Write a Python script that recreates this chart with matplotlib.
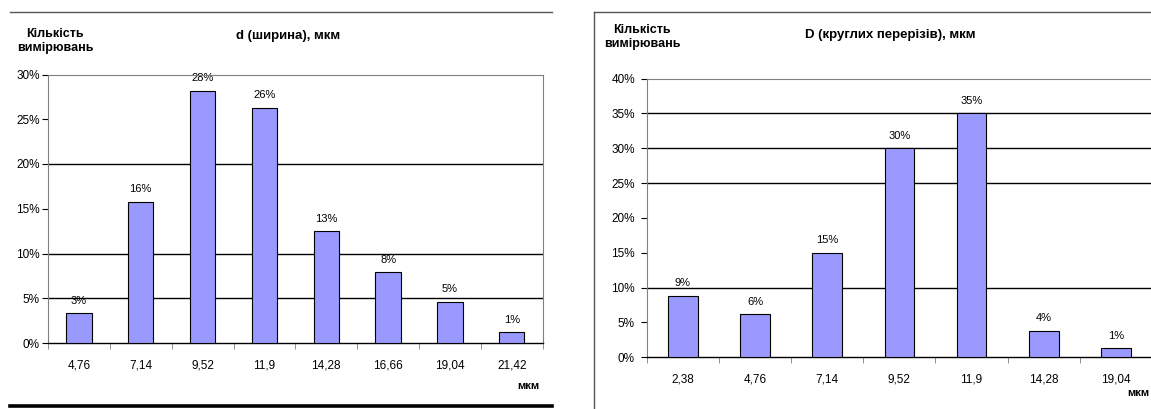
import numpy as np
import matplotlib.pyplot as plt
from matplotlib.lines import Line2D

plt.rcParams["font.family"] = ["Liberation Sans", "DejaVu Sans"]

# Ліва діаграма: d (ширина)
d_cats = ["4,76", "7,14", "9,52", "11,9", "14,28", "16,66", "19,04", "21,42"]
d_vals = [3.3, 15.8, 28.2, 26.3, 12.5, 7.9, 4.6, 1.2]
d_labels = ["3%", "16%", "28%", "26%", "13%", "8%", "5%", "1%"]

# Права діаграма: D (круглих перерізів)
D_cats = ["2,38", "4,76", "7,14", "9,52", "11,9", "14,28", "19,04"]
D_vals = [8.8, 6.2, 15.0, 30.0, 35.0, 3.8, 1.3]
D_labels = ["9%", "6%", "15%", "30%", "35%", "4%", "1%"]

BAR = "#9999FF"
GRAY = "#808080"

fig = plt.figure(figsize=(11.51, 4.09), dpi=100)
W, H = 1151, 409


def px(x0, y_top, x1, y_bot):
    return [x0 / W, 1 - y_bot / H, (x1 - x0) / W, (y_bot - y_top) / H]


def draw(ax, cats, vals, labels, ymax, grid, ypad):
    n = len(cats)
    x = np.arange(n)
    ax.bar(x, vals, width=0.41, color=BAR, edgecolor="black", linewidth=0.8, zorder=3)
    for xi, v, lab in zip(x, vals, labels):
        ax.annotate(lab, (xi, v), xytext=(0, 9), textcoords="offset points",
                    ha="center", va="center", fontsize=8, zorder=0.5)
    # лише ті лінії сітки, що видно на оригіналі
    for g in grid:
        ax.axhline(g, color="black", linewidth=1, zorder=1)
    ax.set_xlim(-0.5, n - 0.5)
    ax.set_ylim(0, ymax)
    ax.set_yticks(np.arange(0, ymax + 1, 5))
    ax.set_yticklabels([f"{int(t)}%" for t in np.arange(0, ymax + 1, 5)], fontsize=8.5)
    ax.set_xticks(x)
    ax.set_xticklabels(cats, fontsize=8.5)
    ax.set_xticks(np.arange(-0.5, n), minor=True)
    ax.tick_params(axis="x", which="major", length=0, pad=12)
    ax.tick_params(axis="x", which="minor", length=4, color=GRAY, direction="out")
    ax.tick_params(axis="y", length=4, width=0.8, color="black", pad=ypad)
    for s in ["left", "top", "right"]:
        ax.spines[s].set_color(GRAY)
        ax.spines[s].set_linewidth(0.8)
    ax.spines["bottom"].set_color("black")
    ax.spines["bottom"].set_linewidth(1)


ax1 = fig.add_axes(px(48, 74.5, 542.7, 343))
draw(ax1, d_cats, d_vals, d_labels, 30, [5, 10, 20], 2)

ax2 = fig.add_axes(px(646.7, 78.5, 1152, 357.3))
draw(ax2, D_cats, D_vals, D_labels, 40, [10, 25, 30, 35], 4.5)

# Підписи
fig.text(55 / W, 1 - 41 / H, "Кількість\nвимірювань", ha="center", va="center",
         fontsize=9, fontweight="bold", linespacing=1.25)
fig.text(288 / W, 1 - 36 / H, "d (ширина), мкм", ha="center", va="center",
         fontsize=9.5, fontweight="bold")
fig.text(528 / W, 1 - 386 / H, "мкм", ha="center", va="center",
         fontsize=8, fontweight="bold")

fig.text(642 / W, 1 - 37 / H, "Кількість\nвимірювань", ha="center", va="center",
         fontsize=9, fontweight="bold", linespacing=1.25)
fig.text(890 / W, 1 - 35 / H, "D (круглих перерізів), мкм", ha="center", va="center",
         fontsize=9.5, fontweight="bold")
fig.text(1149 / W, 1 - 393 / H, "мкм", ha="right", va="center",
         fontsize=8, fontweight="bold")

# Рамки
fig.add_artist(Line2D([10 / W, 552 / W], [1 - 12 / H, 1 - 12 / H], color="#555555", linewidth=1))
fig.add_artist(Line2D([10 / W, 552 / W], [1 - 406 / H, 1 - 406 / H], color="black", linewidth=2.6))
fig.add_artist(Line2D([594 / W, 594 / W], [0, 1 - 12 / H], color="#555555", linewidth=1))
fig.add_artist(Line2D([594 / W, 1], [1 - 12 / H, 1 - 12 / H], color="#555555", linewidth=1))

fig.savefig("out.png", dpi=100)
